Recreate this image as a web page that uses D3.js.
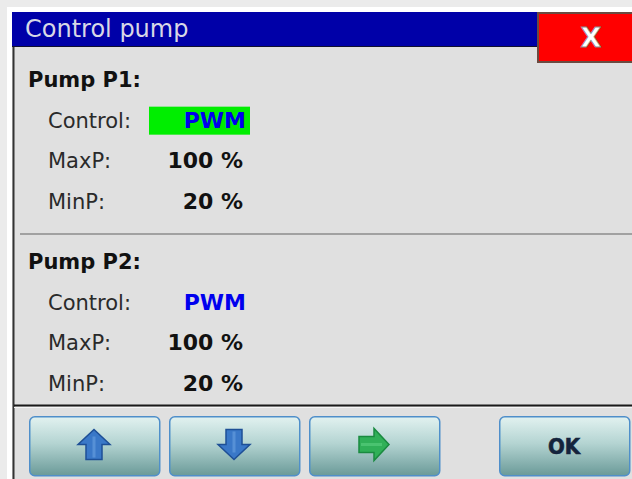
<!DOCTYPE html>
<html>
<head>
<meta charset="utf-8">
<script src="https://cdn.jsdelivr.net/npm/d3@7"></script>
<style>
  body { margin: 0; background: #ffffff; }
  text { font-family: "DejaVu Sans", sans-serif; }
</style>
</head>
<body>
<div id="dialog"></div>
<script>
//Values shown in the dialog
var title = "Control pump";
var pumps = ["Pump P1:", "Pump P2:"];
var fields = ["Control:", "MaxP:", "MinP:"];
var controlModes = ["PWM", "PWM"];
var maxP = [100, 100];
var minP = [20, 20];
var focusedPump = 0;
var buttons = ["up", "down", "next", "OK"];

var width = 632;
var height = 479;

var svg = d3
  .select("#dialog")
  .append("svg")
  .attr("width", width)
  .attr("height", height);

//Gradient for the bottom buttons
var defs = svg.append("defs");
var grad = defs.append("linearGradient")
  .attr("id", "btnGrad")
  .attr("x1", 0).attr("y1", 0).attr("x2", 0).attr("y2", 1);
grad.append("stop").attr("offset", "0%").attr("stop-color", "#e2f2f0");
grad.append("stop").attr("offset", "45%").attr("stop-color", "#b4d4d2");
grad.append("stop").attr("offset", "100%").attr("stop-color", "#6a9a98");

//Page frame and window body
svg.append("rect").attr("width", width).attr("height", height).attr("fill", "#ebebeb");
svg.append("rect").attr("x", 7).attr("y", 7).attr("width", width).attr("height", height).attr("fill", "#ffffff");
svg.append("rect").attr("x", 12).attr("y", 12).attr("width", width).attr("height", height).attr("fill", "#e0e0e0");

//Title bar
svg.append("rect")
  .attr("x", 12).attr("y", 12)
  .attr("width", 525).attr("height", 35)
  .attr("fill", "#0000a8");
svg.append("line")
  .attr("x1", 12).attr("x2", 537).attr("y1", 46.5).attr("y2", 46.5)
  .attr("stroke", "#101030").attr("stroke-width", 1);
svg.append("text")
  .attr("x", 25).attr("y", 37)
  .attr("fill", "#d8d8e6")
  .style("font-size", "24px")
  .text(title);

//Left border of the body
svg.append("line")
  .attr("x1", 13.5).attr("x2", 13.5).attr("y1", 47).attr("y2", height)
  .attr("stroke", "#333333").attr("stroke-width", 2);

//Close button
svg.append("rect")
  .attr("x", 538).attr("y", 13)
  .attr("width", 110).attr("height", 49)
  .attr("fill", "#ff0000")
  .attr("stroke", "#6b4a40").attr("stroke-width", 2);
svg.append("text")
  .attr("x", 591).attr("y", 47)
  .attr("text-anchor", "middle")
  .attr("fill", "#ffffff")
  .attr("stroke", "#8a8a8a").attr("stroke-width", 0.8)
  .style("font-size", "27px").style("font-weight", "bold")
  .text("X");

//Vertical placement of each pump block and its rows
var blockY = d3.scaleLinear().domain([0, 1]).range([87, 269]);
var rowY = d3.scaleLinear().domain([0, 3]).range([0, 122]);

var block = svg.selectAll("g.pump")
  .data(pumps)
  .enter()
  .append("g")
  .attr("class", "pump")
  .attr("transform", function(d, i) { return "translate(0," + blockY(i) + ")"; });

block.append("text")
  .attr("x", 28).attr("y", 0)
  .attr("fill", "#111111")
  .style("font-size", "21px").style("font-weight", "bold")
  .text(function(d) { return d; });

block.each(function(d, i) {
  var g = d3.select(this);
  var values = [controlModes[i], maxP[i] + " %", minP[i] + " %"];

  g.selectAll("text.label")
    .data(fields)
    .enter()
    .append("text")
    .attr("class", "label")
    .attr("x", 48)
    .attr("y", function(f, k) { return rowY(k + 1); })
    .attr("fill", "#2a2a2a")
    .style("font-size", "21px")
    .text(function(f) { return f; });

  if (i === focusedPump) {
    g.append("rect")
      .attr("x", 149).attr("y", rowY(1) - 21)
      .attr("width", 101).attr("height", 28)
      .attr("fill", "#00ee00");
  }

  g.selectAll("text.value")
    .data(values)
    .enter()
    .append("text")
    .attr("class", "value")
    .attr("x", function(v, k) { return k === 0 ? 246 : 243; })
    .attr("y", function(v, k) { return rowY(k + 1); })
    .attr("text-anchor", "end")
    .attr("fill", function(v, k) { return k === 0 ? "#0000ee" : "#111111"; })
    .style("font-size", "22px").style("font-weight", "bold")
    .text(function(v) { return v; });
});

//Separators
svg.append("line")
  .attr("x1", 20).attr("x2", width).attr("y1", 234).attr("y2", 234)
  .attr("stroke", "#8c8c8c").attr("stroke-width", 1.5);
svg.append("line")
  .attr("x1", 14).attr("x2", width).attr("y1", 405.5).attr("y2", 405.5)
  .attr("stroke", "#1a1a1a").attr("stroke-width", 2);
svg.append("line")
  .attr("x1", 14).attr("x2", width).attr("y1", 407.5).attr("y2", 407.5)
  .attr("stroke", "#f6f6f6").attr("stroke-width", 1);

//Bottom buttons
var btnW = 130, btnH = 59, btnTop = 416;
function btnX(i) { return i < 3 ? 29 + i * 140 : 499; }

var arrow = "M0,-15 L16,0 L8,0 L8,15 L-8,15 L-8,0 L-16,0 Z";
var arrowStyle = {
  up: { rot: 0, fill: "#3a78c8", stroke: "#1e4f96", shine: "#6aa0e0" },
  down: { rot: 180, fill: "#3a78c8", stroke: "#1e4f96", shine: "#6aa0e0" },
  next: { rot: 90, fill: "#30b058", stroke: "#1a8a40", shine: "#5cd080" }
};

var btn = svg.selectAll("g.btn")
  .data(buttons)
  .enter()
  .append("g")
  .attr("class", "btn")
  .attr("transform", function(d, i) { return "translate(" + btnX(i) + "," + btnTop + ")"; });

btn.append("rect")
  .attr("x", 0.75).attr("y", 0.75)
  .attr("width", btnW).attr("height", btnH)
  .attr("rx", 5)
  .attr("fill", "url(#btnGrad)")
  .attr("stroke", "#4f8fca").attr("stroke-width", 1.5);

btn.filter(function(d) { return d !== "OK"; })
  .each(function(d) {
    var s = arrowStyle[d];
    var a = d3.select(this).append("g")
      .attr("transform", "translate(" + (btnW / 2) + "," + (btnH / 2 - 1) + ") rotate(" + s.rot + ")");
    a.append("path")
      .attr("d", arrow)
      .attr("fill", s.fill)
      .attr("stroke", s.stroke).attr("stroke-width", 1.5)
      .attr("stroke-linejoin", "miter");
    a.append("line")
      .attr("x1", 0).attr("x2", 0).attr("y1", -8).attr("y2", 13)
      .attr("stroke", s.shine).attr("stroke-width", 3).attr("opacity", 0.6);
  });

btn.filter(function(d) { return d === "OK"; })
  .append("text")
  .attr("x", btnW / 2).attr("y", 38)
  .attr("text-anchor", "middle")
  .attr("fill", "#14243c")
  .attr("stroke", "#14243c").attr("stroke-width", 0.6)
  .style("font-family", "'DejaVu Sans Condensed', 'DejaVu Sans', sans-serif")
  .style("font-size", "22px").style("font-weight", "bold")
  .text(function(d) { return d; });
</script>
</body>
</html>
